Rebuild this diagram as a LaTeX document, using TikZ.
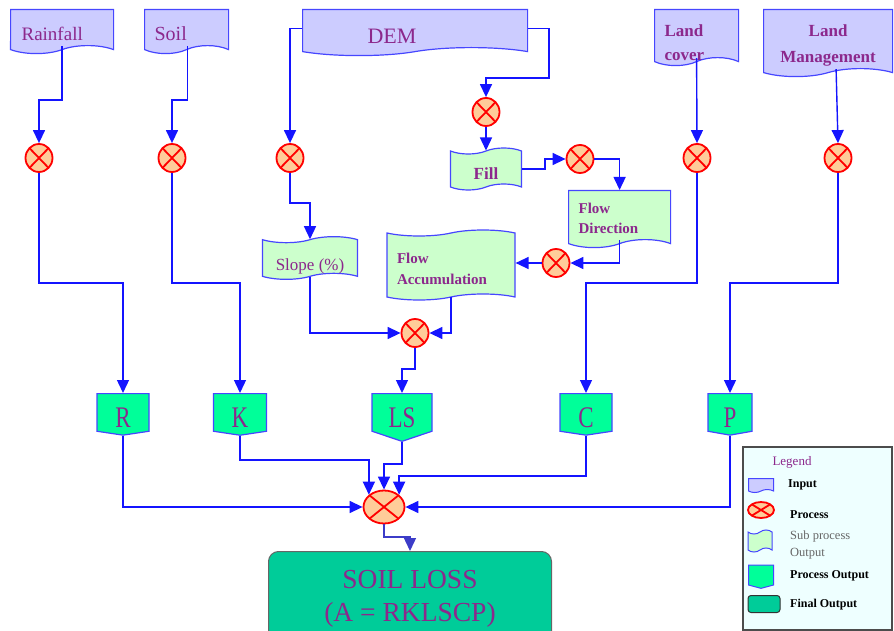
\documentclass[tikz,border=0pt]{standalone}
\usepackage{fontspec}
\usepackage{graphicx}
\setmainfont{Liberation Serif}
\usetikzlibrary{shapes.symbols,shapes.geometric,arrows.meta}

\definecolor{inputfill}{RGB}{204,204,255}
\definecolor{shapeline}{RGB}{70,70,255}
\definecolor{subfill}{RGB}{204,255,204}
\definecolor{outfill}{RGB}{0,255,153}
\definecolor{finalfill}{RGB}{0,204,153}
\definecolor{procfill}{RGB}{255,204,153}
\definecolor{legendfill}{RGB}{238,255,255}
\definecolor{txtpurple}{RGB}{140,40,140}
\definecolor{flowblue}{RGB}{20,20,255}
\definecolor{slateline}{RGB}{60,60,200}

\begin{document}
\begin{tikzpicture}[x=1pt, y=-1pt,
    inputbox/.style={tape, tape bend top=none, tape bend bottom=in and out, tape bend height=8pt, draw=shapeline, fill=inputfill, line width=1.2pt, text=txtpurple, align=left, anchor=north west, text depth=0pt},
    subbox/.style={tape, tape bend height=6pt, draw=shapeline, fill=subfill, line width=1.2pt, text=txtpurple, text depth=0pt},
    outbox/.style={signal, signal to=south, signal from=nowhere, signal pointer angle=163, draw=shapeline, fill=outfill, line width=1.2pt, text=txtpurple, anchor=north, minimum height=36pt, text height=31pt, text depth=0pt, font=\fontsize{23}{26}\selectfont},
    proc/.style={ellipse, minimum width=27pt, minimum height=28pt, inner sep=0pt, draw=red, fill=procfill, line width=1.8pt,
        path picture={\draw[red, line width=1.8pt] (path picture bounding box.north west) -- (path picture bounding box.south east) (path picture bounding box.south west) -- (path picture bounding box.north east);}},
    finalbox/.style={rectangle, rounded corners=10pt, draw=black!60, fill=finalfill, line width=1pt, text=txtpurple, align=center, font=\fontsize{27.5}{33}\selectfont},
    arrow/.style={-{Triangle[length=13pt,width=12pt]}, draw=flowblue, line width=1.4pt},
    legend text/.style={anchor=west, inner sep=0pt, font=\fontsize{12}{14}\selectfont\bfseries}
]
\useasboundingbox (0,0) rectangle (894,631);

% Inputs
\node[inputbox, minimum width=103pt, minimum height=44pt, text width=81pt, inner xsep=11pt, text height=26pt, font=\fontsize{19}{22}\selectfont] (rain) at (10,9) {Rainfall};
\node[inputbox, minimum width=84pt, minimum height=44pt, text width=64pt, inner xsep=10pt, text height=26pt, font=\fontsize{20}{22}\selectfont] (soil) at (144,9) {Soil};
\node[inputbox, minimum width=225pt, minimum height=46pt, text width=95pt, inner xsep=65pt, text height=29pt, font=\fontsize{22}{24}\selectfont] (dem) at (302,9) {DEM};
\node[inputbox, minimum width=84pt, minimum height=56pt, text width=64pt, inner xsep=10pt, inner ysep=0pt, text height=6pt, font=\fontsize{17}{24}\selectfont\bfseries] (lc) at (654,9) {Land\\cover};
\node[inputbox, minimum width=129pt, minimum height=67pt, text width=109pt, inner xsep=10pt, inner ysep=0pt, text height=0pt, text depth=6pt, align=center, font=\fontsize{17}{26}\selectfont\bfseries] (lm) at (763,9) {Land\\Management};

% Processes
\node[proc] (p1) at (39,158) {};
\node[proc] (p2) at (172,158) {};
\node[proc] (p3) at (290,158) {};
\node[proc] (p4) at (486,112) {};
\node[proc] (p5) at (580,159) {};
\node[proc] (p6) at (697,158) {};
\node[proc] (p7) at (838,158) {};
\node[proc] (p8) at (556,263) {};
\node[proc] (p9) at (415,333) {};
\node[proc, minimum width=41pt, minimum height=33pt] (pf) at (384,507) {};

% Sub process outputs
\node[subbox, minimum width=71pt, minimum height=42pt, text height=22pt, font=\fontsize{17}{20}\selectfont\bfseries] (fill) at (486,169) {Fill};
\node[inputbox, fill=subfill, minimum width=102pt, minimum height=57pt, text width=82pt, inner xsep=10pt, inner ysep=0pt, text height=0pt, text depth=3.5pt, font=\fontsize{15}{20}\selectfont\bfseries] (flowdir) at (568,190) {Flow\\Direction};
\node[subbox, minimum width=95pt, minimum height=40pt, text height=24pt, font=\fontsize{17}{20}\selectfont] (slope) at (310,258) {Slope (\%)};
\node[subbox, minimum width=128pt, minimum height=70pt, text width=108pt, inner xsep=10pt, inner ysep=0pt, text height=0pt, text depth=4pt, align=left, font=\fontsize{15}{21}\selectfont\bfseries] (flowacc) at (451,265) {Flow\\Accumulation};

% Process outputs
\node[outbox, minimum width=52pt] (r) at (123,393) {\scalebox{1}[1.3]{R}};
\node[outbox, minimum width=53pt] (k) at (240,393) {\scalebox{1}[1.3]{K}};
\node[outbox, minimum width=60pt, minimum height=37pt, signal pointer angle=143] (ls) at (402,393) {\scalebox{1}[1.3]{LS}};
\node[outbox, minimum width=52pt] (c) at (586,393) {\scalebox{1}[1.3]{C}};
\node[outbox, minimum width=44pt, signal pointer angle=160] (p) at (730,393) {\scalebox{1}[1.3]{P}};

% Final output
\node[finalbox, anchor=north, minimum width=283pt, minimum height=95pt] (soilloss) at (410,551) {SOIL LOSS\\(A = RKLSCP)};

% Arrows from inputs
\draw[arrow] (rain.south) -- (rain.south |- 0,100) -| (p1.north);
\draw[arrow] ([xshift=1pt]soil.south) -- ([xshift=1pt]soil.south |- 0,100) -| (p2.north);
\draw[arrow] (dem.west) -| (p3.north);
\draw[arrow] (dem.east) -| (549,78) -| (p4.north);
\draw[arrow] (lc.south) -- (p6.north);
\draw[arrow] ([xshift=8pt]lm.south) -- (p7.north);

% DEM branch
\draw[arrow] (p4.south) -- (fill.north);
\draw[arrow] (fill.east) -| (545,159) -- (p5.west);
\draw[arrow] (p5.east) -| (flowdir.north);
\draw[arrow] (flowdir.south) |- (p8.east);
\draw[arrow] (p8.west) -- (p8.west -| flowacc.east);
\draw[arrow] (p3.south) -- (p3.south |- 0,203) -| (slope.north);
\draw[arrow] (slope.south) |- (p9.west);
\draw[arrow] (flowacc.south) |- (p9.east);
\draw[arrow] (p9.south) -- (p9.south |- 0,369) -| (ls.north);

% Processes to factors
\draw[arrow] (p1.south) -- (p1.south |- 0,283) -| (r.north);
\draw[arrow] (p2.south) -- (p2.south |- 0,283) -| (k.north);
\draw[arrow] (p6.south) -- (p6.south |- 0,283) -| (c.north);
\draw[arrow] (p7.south) -- (p7.south |- 0,283) -| (p.north);

% Factors to final process
\draw[arrow] (r.south) |- (pf.west);
\draw[arrow] (k.south) -- (k.south |- 0,460) -| (pf.north west);
\draw[arrow] (ls.south) -- (ls.south |- 0,464) -| (pf.north);
\draw[arrow] (c.south) -- (c.south |- 0,476) -| (pf.north east);
\draw[arrow] (p.south) |- (pf.east);
\draw[arrow, draw=slateline] (pf.south) -- (pf.south |- 0,537) -| (soilloss.north);

% Legend
\node[draw=black!70, fill=legendfill, line width=1.5pt, minimum width=149pt, minimum height=183pt, anchor=north west] (legend) at (742,446) {};
\node[text=txtpurple, font=\fontsize{13}{15}\selectfont] (lgtitle) at (792,462) {Legend};
\node[inputbox, anchor=center, minimum width=25pt, minimum height=14pt, inner sep=0pt, tape bend height=3pt, line width=1pt, text height=0pt] (lgin) at (761,484) {};
\node[proc, minimum width=26pt, minimum height=16pt] (lgproc) at (761,510) {};
\node[subbox, minimum width=24pt, minimum height=22pt, inner sep=0pt, tape bend height=4pt, line width=1pt, text height=0pt] (lgsub) at (760,541) {};
\node[outbox, anchor=center, minimum width=25pt, minimum height=20pt, inner sep=0pt, line width=1pt, signal pointer angle=150, text height=0pt] (lgout) at (761,575) {};
\node[finalbox, rounded corners=3pt, draw=black!80, minimum width=32pt, minimum height=17pt, inner sep=0pt] (lgfin) at (764,604) {};
\node[legend text] (lgintxt) at (788,485) {Input};
\node[legend text] (lgproctxt) at (790,515) {Process};
\node[legend text, align=left, text=black!60, font=\fontsize{12.5}{17}\selectfont] (lgsubtxt) at (790,545) {Sub process\\Output};
\node[legend text] (lgouttxt) at (790,576) {Process Output};
\node[legend text] (lgfintxt) at (790,605) {Final Output};

\end{tikzpicture}
\end{document}
